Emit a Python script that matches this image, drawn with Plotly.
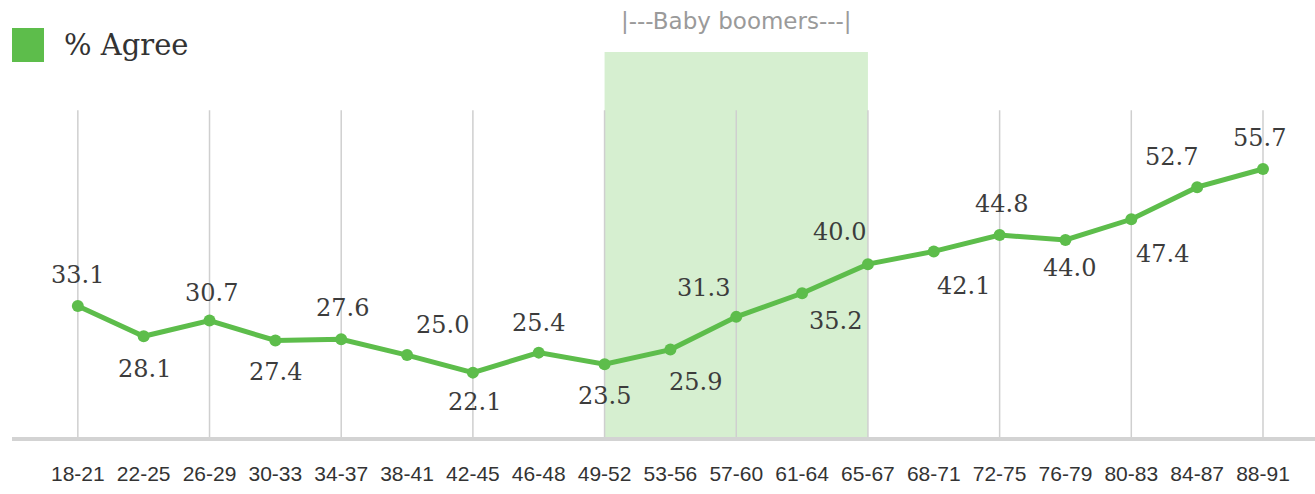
import plotly.graph_objects as go

categories = ["18-21", "22-25", "26-29", "30-33", "34-37", "38-41", "42-45", "46-48",
              "49-52", "53-56", "57-60", "61-64", "65-67", "68-71", "72-75", "76-79",
              "80-83", "84-87", "88-91"]
agree = [33.1, 28.1, 30.7, 27.4, 27.6, 25.0, 22.1, 25.4, 23.5, 25.9, 31.3, 35.2,
         40.0, 42.1, 44.8, 44.0, 47.4, 52.7, 55.7]
series_name = "% Agree"
boomer_start = "49-52"
boomer_end = "65-67"
boomer_label = "|---Baby boomers---|"

# label offsets in pixels (style only)
label_dx = [0, 1, 2, 0, 1, 35, 2, 0, 0, 25, -33, 33, -28, 30, 2, 4, 31, -26, -3]
label_dy = [31, -33, 28, -31, 31, 30, -29, 30, -32, -32, 29, -28, 32, -35, 31, -28, -35, 30, 31]

GREEN = "#5dbd4b"

fig = go.Figure()
fig.add_trace(go.Scatter(
    x=categories, y=agree, mode="lines+markers", name=series_name,
    line=dict(color=GREEN, width=5), marker=dict(color=GREEN, size=12),
    showlegend=False, hoverinfo="x+y"))

shapes = []
# baby boomer band
shapes.append(dict(type="rect", xref="x", yref="paper",
                   x0=categories.index(boomer_start), x1=categories.index(boomer_end),
                   y0=0, y1=1, fillcolor="#d6efd0", line=dict(width=0), layer="below"))
# vertical gridlines every other category
for i in range(0, len(categories), 2):
    shapes.append(dict(type="line", xref="x", yref="paper", x0=i, x1=i, y0=0, y1=0.849,
                       line=dict(color="#cfcfcf", width=1.5), layer="below"))
# legend square
shapes.append(dict(type="rect", xref="paper", yref="paper",
                   x0=-0.00, x1=32 / 1303, y0=(437 - 62) / 385, y1=(437 - 28) / 385,
                   fillcolor=GREEN, line=dict(width=0)))

annotations = []
for i, (c, v) in enumerate(zip(categories, agree)):
    annotations.append(dict(x=c, y=v, xref="x", yref="y", text=f"{v:.1f}", showarrow=False,
                            xshift=label_dx[i], yshift=label_dy[i],
                            font=dict(family="DejaVu Serif", size=24, color="#3c3c3c")))
annotations.append(dict(x=50 / 1303, y=(437 - 45) / 385, xref="paper", yref="paper",
                        text=series_name, showarrow=False, xanchor="left", yanchor="middle",
                        font=dict(family="DejaVu Serif", size=29, color="#333333")))
annotations.append(dict(x=10, y=(437 - 21) / 385, xref="x", yref="paper",
                        text=boomer_label, showarrow=False, xanchor="center", yanchor="middle",
                        font=dict(family="DejaVu Sans", size=23, color="#9a9a9a")))

fig.update_layout(
    width=1315, height=494,
    margin=dict(l=12, r=0, t=52, b=57),
    paper_bgcolor="white", plot_bgcolor="white",
    shapes=shapes, annotations=annotations,
    xaxis=dict(type="category", categoryorder="array", categoryarray=categories,
               range=[-1.0, 18.79], showgrid=False, zeroline=False,
               showline=True, linecolor="#d3d3d3", linewidth=4,
               ticks="", ticklabelstandoff=15,
               tickfont=dict(family="Liberation Sans, Arial", size=21, color="#333333")),
    yaxis=dict(range=[11.48, 75.0], showgrid=False, zeroline=False, showticklabels=False,
               showline=False),
)

fig.write_html("out.html")
